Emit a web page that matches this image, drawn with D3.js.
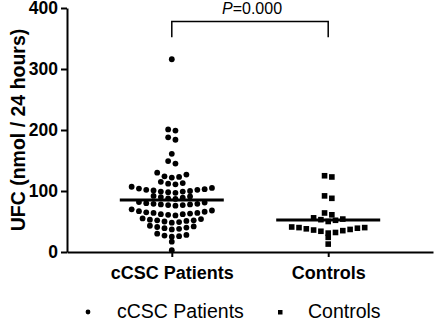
<!DOCTYPE html>
<html lang="en">
<head>
<meta charset="UTF-8">
<title>UFC scatter</title>
<script src="https://cdn.jsdelivr.net/npm/d3@7"></script>
<style>
  body { margin: 0; background: #fff; }
  text { font-family: Arial, "Liberation Sans", sans-serif; fill: #000; }
</style>
</head>
<body>
<div id="app"></div>
<script>
// values
var categories = ["cCSC Patients", "Controls"];
var patients = [3, 17, 25, 26, 27, 28, 30, 37, 38, 39, 40, 41, 42, 43,
  48, 49, 50, 51, 52, 52, 53, 54, 55,
  60, 61, 62, 62, 63, 64, 64, 65, 66, 67, 68, 70,
  76, 77, 77, 78, 78, 79, 79, 80, 81, 82,
  87, 88, 89, 90, 91, 92,
  97, 98, 99, 99, 100, 101, 102, 102, 103, 104, 105, 107,
  111, 112, 113, 115, 122, 123, 124, 127, 130,
  145, 149, 161, 184, 188, 199, 201, 316];
var controls = [13, 24, 31, 32, 34, 35, 36, 37, 38, 39, 40, 40, 41,
  50, 52, 53, 54, 56, 61, 64, 88, 92, 123, 125];
var yTicks = [0, 100, 200, 300, 400];
var pValue = "0.000";

var width = 436, height = 322;
var svg = d3.select("#app").append("svg")
  .attr("width", width).attr("height", height);

var y = d3.scaleLinear().domain([0, 400]).range([252, 8]);
var x = d3.scalePoint().domain(categories).range([67, 433]).padding(0.67);

// prism-like rows: close values share a row, spread out sideways
function swarm(values, step) {
  var sorted = values.slice().sort(function (a, b) { return a - b; });
  var groups = [], cur = null, prev = null;
  sorted.forEach(function (v) {
    if (!cur || v - prev >= 5 || v - cur[0] > 11) { cur = []; groups.push(cur); }
    cur.push(v); prev = v;
  });
  var out = [];
  groups.forEach(function (g) {
    var desc = g.slice().sort(function (a, b) { return b - a; });
    var n = desc.length, l = 0, r = n - 1;
    desc.forEach(function (v, i) {
      var pos = (i % 2 == 0) ? l++ : r--;
      out.push({ v: v, dx: (pos - (n - 1) / 2) * step });
    });
  });
  return out;
}

// axes
var yAxis = svg.append("g").attr("transform", "translate(67,0)")
  .call(d3.axisLeft(y).tickValues(yTicks).tickSize(6).tickSizeOuter(0).tickPadding(3));
var xAxis = svg.append("g").attr("transform", "translate(0,252)")
  .call(d3.axisBottom(x).tickSize(5).tickSizeOuter(0).tickPadding(9));
svg.selectAll(".domain, .tick line").attr("stroke", "#000").attr("stroke-width", 2);
yAxis.selectAll("text").style("font-size", "17.5px").style("font-weight", "bold");
xAxis.selectAll("text").style("font-size", "18px").style("font-weight", "bold");

svg.append("text")
  .attr("transform", "translate(25,130) rotate(-90)")
  .attr("text-anchor", "middle")
  .style("font-size", "19.5px").style("font-weight", "bold")
  .text("UFC (nmol / 24 hours)");

// points
var px = x(categories[0]), cx = x(categories[1]);
svg.append("g").selectAll("circle")
  .data(swarm(patients, 7.3)).enter().append("circle")
  .attr("cx", function (d) { return px + d.dx; })
  .attr("cy", function (d) { return y(d.v); })
  .attr("r", 2.9).attr("fill", "#000");

var sq = 5.6;
svg.append("g").selectAll("rect")
  .data(swarm(controls, 7.3)).enter().append("rect")
  .attr("x", function (d) { return cx + d.dx - sq / 2; })
  .attr("y", function (d) { return y(d.v) - sq / 2; })
  .attr("width", sq).attr("height", sq).attr("fill", "#000");

// mean lines
[[px, d3.mean(patients)], [cx, d3.mean(controls)]].forEach(function (m) {
  svg.append("line")
    .attr("x1", m[0] - 52).attr("x2", m[0] + 52)
    .attr("y1", y(m[1])).attr("y2", y(m[1]))
    .attr("stroke", "#000").attr("stroke-width", 3);
});

// significance bracket
var barY = y(378), legY = y(352);
svg.append("path")
  .attr("d", "M" + px + "," + legY + "V" + barY + "H" + cx + "V" + legY)
  .attr("fill", "none").attr("stroke", "#000").attr("stroke-width", 1.5);
var pt = svg.append("text")
  .attr("x", (px + cx) / 2 + 2).attr("y", 14)
  .attr("text-anchor", "middle").style("font-size", "16px");
pt.append("tspan").style("font-style", "italic").text("P");
pt.append("tspan").text("=" + pValue);

// legend
var lg = svg.append("g");
lg.append("circle").attr("cx", 88).attr("cy", 312).attr("r", 2.4).attr("fill", "#000");
lg.append("text").attr("x", 117).attr("y", 318).style("font-size", "19.5px").text(categories[0]);
lg.append("rect").attr("x", 278).attr("y", 310).attr("width", 4.5).attr("height", 4.5).attr("fill", "#000");
lg.append("text").attr("x", 308).attr("y", 318).style("font-size", "19.5px").text(categories[1]);
</script>
</body>
</html>
